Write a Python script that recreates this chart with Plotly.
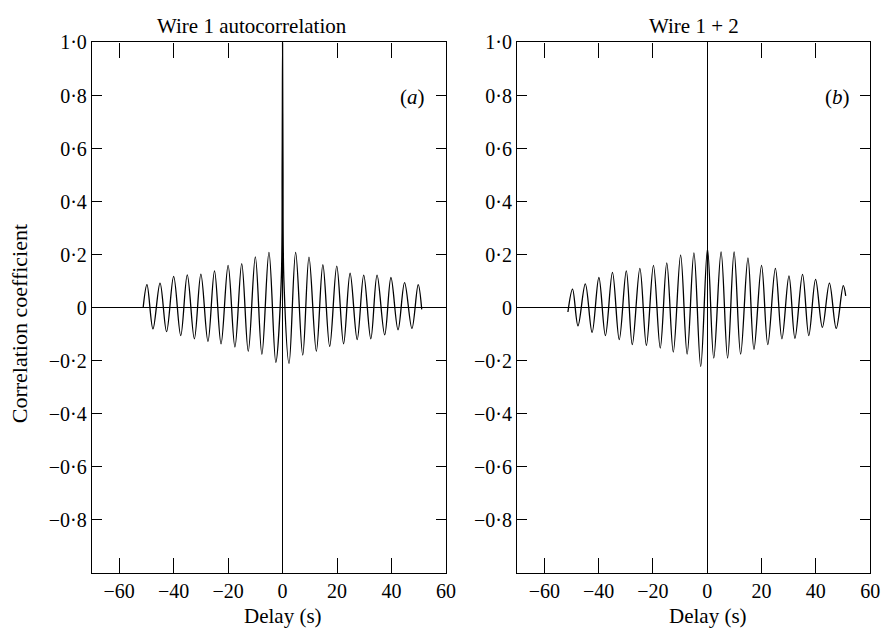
import plotly.graph_objects as go

# ---- data ----
# Panel (a): Wire 1 autocorrelation (delay s, correlation)
a_delay = [-51.2, -49.8, -47.6, -45.0, -42.6, -40.0, -37.4, -35.0, -32.4, -30.0, -27.4,
           -25.0, -22.6, -20.0, -17.5, -15.0, -12.6, -10.0, -7.6, -5.0, -2.5,
           -0.5, -0.15, 0.0, 0.15, 0.5,
           2.4, 4.8, 7.4, 9.7, 12.4, 14.8, 17.3, 19.9, 22.4, 24.8, 27.4, 29.8,
           32.4, 34.7, 37.5, 39.8, 42.4, 44.8, 47.5, 49.8, 51.1]
a_corr = [0.0, 0.087, -0.080, 0.093, -0.090, 0.118, -0.105, 0.124, -0.117, 0.127, -0.127,
          0.139, -0.136, 0.160, -0.148, 0.166, -0.164, 0.192, -0.176, 0.209, -0.206,
          0.10, 0.55, 1.0, 0.55, 0.10,
          -0.210, 0.209, -0.179, 0.191, -0.164, 0.162, -0.146, 0.157, -0.136, 0.130, -0.120, 0.123,
          -0.117, 0.123, -0.102, 0.114, -0.083, 0.095, -0.078, 0.087, -0.006]

# Panel (b): Wire 1 + 2 cross-correlation
b_delay = [-51.3, -49.6, -47.6, -44.9, -42.4, -39.9, -37.5, -34.9, -32.4, -29.8, -27.6,
           -24.8, -22.4, -19.8, -17.3, -14.9, -12.5, -9.8, -7.4, -4.9, -2.4,
           0.1, 2.4, 5.1, 7.5, 9.9, 12.3, 15.0, 17.2, 20.0, 22.3, 25.1, 27.5, 30.1,
           32.3, 35.1, 37.4, 39.9, 42.4, 45.0, 47.5, 50.1, 51.0]
b_corr = [-0.016, 0.070, -0.068, 0.090, -0.093, 0.114, -0.105, 0.133, -0.120, 0.139, -0.139,
          0.148, -0.142, 0.160, -0.152, 0.169, -0.167, 0.198, -0.175, 0.207, -0.222,
          0.222, -0.190, 0.210, -0.190, 0.210, -0.175, 0.188, -0.157, 0.160, -0.139, 0.148, -0.117, 0.120,
          -0.115, 0.126, -0.105, 0.107, -0.074, 0.093, -0.078, 0.083, 0.045]

x_ticks = [-60, -40, -20, 0, 20, 40, 60]
x_ticktext = ["\u221260", "\u221240", "\u221220", "0", "20", "40", "60"]
y_ticks = [-0.8, -0.6, -0.4, -0.2, 0.0, 0.2, 0.4, 0.6, 0.8, 1.0]
y_ticktext = ["\u22120\u00b78", "\u22120\u00b76", "\u22120\u00b74", "\u22120\u00b72", "0",
              "0\u00b72", "0\u00b74", "0\u00b76", "0\u00b78", "1\u00b70"]

titles = ["Wire 1 autocorrelation", "Wire 1 + 2"]
panel_tags = ["(<i>a</i>)", "(<i>b</i>)"]
x_title = "Delay (s)"
y_title = "Correlation coefficient"

# ---- layout geometry ----
W, H = 894, 631
FONT = "Liberation Serif, Times New Roman, serif"
TICK_SIZE = 20
TEXT_SIZE = 21

def px(x):
    return x / W

def py(y):
    return 1 - y / H

fig = go.Figure()
fig.add_trace(go.Scatter(x=a_delay, y=a_corr, mode="lines", xaxis="x", yaxis="y",
                         line=dict(color="black", width=1.3, shape="spline", smoothing=1.0),
                         showlegend=False, hoverinfo="skip"))
fig.add_trace(go.Scatter(x=b_delay, y=b_corr, mode="lines", xaxis="x2", yaxis="y2",
                         line=dict(color="black", width=1.3, shape="spline", smoothing=1.0),
                         showlegend=False, hoverinfo="skip"))

ax_common = dict(showline=True, linecolor="black", linewidth=1.3, mirror="allticks",
                 ticks="inside", tickcolor="black", tickwidth=1.2, showgrid=False,
                 zeroline=True, zerolinecolor="black", zerolinewidth=1.3,
                 tickfont=dict(family=FONT, size=TICK_SIZE, color="black"), fixedrange=True)

xdom1 = [px(93), px(451)]
xdom2 = [px(523), px(880)]
ydom = [py(572), py(32)]

fig.update_layout(
    width=W, height=H, margin=dict(l=0, r=0, t=0, b=0),
    paper_bgcolor="white", plot_bgcolor="white",
    font=dict(family=FONT, color="black"),
    xaxis=dict(domain=xdom1, range=[-70, 60], tickvals=x_ticks, ticktext=x_ticktext,
               ticklen=15, anchor="y", **ax_common),
    yaxis=dict(domain=ydom, range=[-1, 1], tickvals=y_ticks, ticktext=y_ticktext,
               ticklen=10, anchor="x", **ax_common),
    xaxis2=dict(domain=xdom2, range=[-70, 60], tickvals=x_ticks, ticktext=x_ticktext,
                ticklen=15, anchor="y2", **ax_common),
    yaxis2=dict(domain=ydom, range=[-1, 1], tickvals=y_ticks, ticktext=y_ticktext,
                ticklen=10, anchor="x2", **ax_common),
)

def label(text, x, y, angle=0, size=TEXT_SIZE):
    return dict(text=text, x=px(x), y=py(y), xref="paper", yref="paper",
                xanchor="center", yanchor="middle", showarrow=False, textangle=angle,
                font=dict(family=FONT, size=size, color="black"))

ann = [
    label(titles[0], 255, 15),
    label(titles[1], 702, 15),
    label(panel_tags[0], 417, 88),
    label(panel_tags[1], 847, 88),
    label(x_title, 286, 616),
    label(x_title, 716, 616),
    label(y_title, 20, 318, angle=-90, size=22),
]
fig.update_layout(annotations=ann)

fig.write_html("out.html")
